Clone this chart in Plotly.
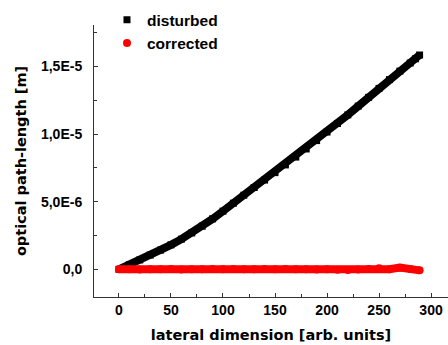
import plotly.graph_objects as go

# lateral dimension [arb. units]
x_disturbed = [0, 10, 20, 30, 40, 50, 60, 70, 80, 90, 100, 110, 120, 130, 140, 150,
               160, 170, 180, 190, 200, 210, 220, 230, 240, 250, 260, 270, 280, 285, 289]
# optical path-length in micrometres (x1e-6 m)
y_disturbed_um = [0.0, 0.34, 0.69, 1.05, 1.42, 1.81, 2.23, 2.69, 3.19, 3.73, 4.30, 4.89,
                  5.48, 6.05, 6.60, 7.15, 7.72, 8.30, 8.90, 9.52, 10.15, 10.78, 11.42,
                  12.07, 12.72, 13.38, 14.03, 14.66, 15.26, 15.57, 15.85]

x_corrected = [0, 10, 20, 30, 40, 50, 60, 70, 80, 90, 100, 110, 120, 130, 140, 150,
               160, 170, 180, 190, 200, 210, 220, 230, 240, 250, 260, 270, 280, 289]
y_corrected_um = [0.0, 0.0, -0.02, 0.01, 0.0, 0.02, -0.01, 0.01, 0.0, 0.02, 0.0, 0.02,
                  0.01, 0.0, 0.02, 0.01, 0.02, 0.0, 0.01, -0.02, 0.0, -0.03, -0.05,
                  -0.02, 0.02, 0.07, 0.0, 0.12, 0.02, -0.08]

y_tickvals = [0, 5e-6, 1e-5, 1.5e-5]
y_ticktext = ["0,0", "5,0E-6", "1,0E-5", "1,5E-5"]
x_tickvals = [0, 50, 100, 150, 200, 250, 300]

y_disturbed = [v * 1e-6 for v in y_disturbed_um]
y_corrected = [v * 1e-6 for v in y_corrected_um]

tick_font = dict(family="Liberation Sans, Arial", size=14, color="black", weight="bold")
title_font = dict(family="DejaVu Sans", size=14.5, color="black", weight="bold")

fig = go.Figure()
fig.add_trace(go.Scatter(x=x_disturbed, y=y_disturbed, mode="lines",
                         line=dict(color="black", width=8), showlegend=False, hoverinfo="skip"))
fig.add_trace(go.Scatter(x=x_disturbed, y=y_disturbed, mode="markers", name="disturbed",
                         marker=dict(symbol="square", color="black", size=7)))
fig.add_trace(go.Scatter(x=x_corrected, y=y_corrected, mode="lines",
                         line=dict(color="#ff0000", width=8), showlegend=False, hoverinfo="skip"))
fig.add_trace(go.Scatter(x=x_corrected, y=y_corrected, mode="markers", name="corrected",
                         marker=dict(symbol="circle", color="#ff0000", size=8)))

fig.update_layout(
    width=448, height=345,
    margin=dict(l=94, r=0, t=25, b=48, autoexpand=False),
    paper_bgcolor="white", plot_bgcolor="white",
    showlegend=True,
    legend=dict(x=0.0367, y=1.08, xanchor="left", yanchor="top",
                bgcolor="rgba(0,0,0,0)", borderwidth=0, tracegroupgap=0,
                font=dict(family="Liberation Sans, Arial", size=15.5, color="black", weight="bold")),
    xaxis=dict(range=[-24, 316.3], tickvals=x_tickvals, ticks="inside", ticklen=4,
               tickcolor="#333", tickwidth=1,
               minor=dict(dtick=25, tick0=0, ticks="inside", ticklen=3, tickcolor="#333"),
               showline=True, linecolor="#333", linewidth=1, showgrid=False, zeroline=False,
               tickfont=tick_font, ticklabelstandoff=0, automargin=False,
               title=dict(text="lateral dimension [arb. units]", font=title_font, standoff=13)),
    yaxis=dict(range=[-2.05e-6, 18.07e-6], tickvals=y_tickvals, ticktext=y_ticktext,
               ticks="inside", ticklen=4, tickcolor="#333", tickwidth=1,
               minor=dict(dtick=2.5e-6, tick0=0, ticks="inside", ticklen=3, tickcolor="#333"),
               showline=True, linecolor="#333", linewidth=1, showgrid=False, zeroline=False,
               tickfont=tick_font, ticklabelstandoff=8, automargin=False,
               title=dict(text="optical path-length [m]", font=title_font, standoff=10)),
)

fig.write_html("out.html", config={"displayModeBar": False},
               post_script="document.body.style.margin='0px';")
